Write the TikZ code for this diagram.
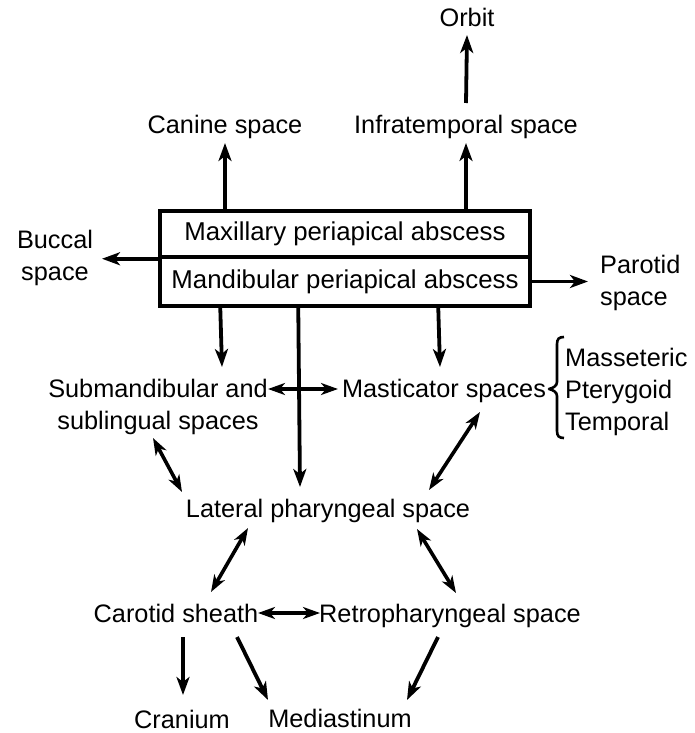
\documentclass[tikz,border=0pt]{standalone}
\usepackage{fontspec}
\setmainfont{Liberation Sans}
\usetikzlibrary{arrows.meta,calc}
\begin{document}
\begin{tikzpicture}[x=1pt,y=-1pt,
  lbl/.style={inner sep=0pt,font=\fontsize{25.3}{32}\selectfont,anchor=base},
  boxc/.style={draw,line width=3.5pt,minimum width=370pt,inner sep=0pt,font=\fontsize{25.8}{30}\selectfont,fill=white},
  arr/.style={line width=3.8pt,-{Stealth[length=18pt,width=13pt,inset=5pt]}},
  darr/.style={line width=3.6pt,{Stealth[length=17pt,width=12pt,inset=5pt]}-{Stealth[length=17pt,width=12pt,inset=5pt]}}]
\useasboundingbox (0,0) rectangle (695,733);
\fill[white] (0,0) rectangle (695,733);
% nodes
\node[lbl] (orbit) at (467,27) {Orbit};
\node[lbl] (can) at (225,133) {Canine space};
\node[lbl] (inf) at (466,133) {Infratemporal space};
\node[boxc,minimum height=46pt] (max) at (345,234) {Maxillary periapical abscess};
\node[boxc,minimum height=49pt] (mand) at (345,281.5) {Mandibular periapical abscess};
\node[lbl,align=center] (buc) at (55,280) {Buccal\\space};
\node[lbl,align=left,anchor=base west] (par) at (600,305) {Parotid\\space};
\node[lbl,align=center] (sub) at (158,429) {Submandibular and\\sublingual spaces};
\node[lbl] (mas) at (444,397) {Masticator spaces};
\node[lbl,align=left,anchor=base west] (mpt) at (565,430) {Masseteric\\Pterygoid\\Temporal};
\node[lbl] (lat) at (328,517) {Lateral pharyngeal space};
\node[lbl] (car) at (176,622) {Carotid sheath};
\node[lbl] (ret) at (450,622) {Retropharyngeal space};
\node[lbl] (cra) at (182,728) {Cranium};
\node[lbl] (med) at (340,727) {Mediastinum};
% connectors
\draw[arr] (max.north -| can.base) -- ($(can.base)+(0,10)$);
\draw[arr] (max.north -| inf.base) -- ($(inf.base)+(0,10)$);
\draw[arr] ($(inf.base)+(0,-30)$) -- ($(orbit.base)+(0,8)$);
\draw[arr] (max.south west) -- (max.south west -| {$(buc.base)+(47,0)$});
\draw[arr] (mand.east) -- (mand.east -| {$(par.base west)+(-12,0)$});
\draw[arr] ($(mand.south west)+(62,0)$) -- ($(sub.base)+(64,-62)$);
\draw[arr] ($(mand.south west)+(140,0)$) -- ($(lat.base)+(-28,-30)$);
\draw[arr] ($(mand.south west)+(280,0)$) -- ($(mas.base)+(-4,-30)$);
\draw[darr] ($(mas.base)+(-176,-8)$) -- ($(mas.base)+(-106,-8)$);
\draw[darr] ($(lat.base)+(-175,-79)$) -- ($(lat.base)+(-146,-25)$);
\draw[darr] ($(lat.base)+(152,-105)$) -- ($(lat.base)+(101,-27)$);
\draw[darr] ($(lat.base)+(89,12)$) -- ($(ret.base)+(6,-29)$);
\draw[darr] ($(lat.base)+(-80,11)$) -- ($(car.base)+(35,-30)$);
\draw[darr] ($(car.base)+(82,-9)$) -- ($(ret.base)+(-130,-9)$);
\draw[arr] ($(car.base)+(7,15)$) -- ($(cra.base)+(1,-33)$);
\draw[arr] ($(car.base)+(61,15)$) -- ($(med.base)+(-72,-27)$);
\draw[arr] ($(ret.base)+(-12,15)$) -- ($(med.base)+(67,-27)$);
% brace
\draw[line width=2.6pt,line join=round] (564,337) .. controls (559,337) and (557,339) .. (557,344)
  -- (557,382) .. controls (557,386) and (553,388) .. (549,389)
  .. controls (553,390) and (557,392) .. (557,396)
  -- (557,431) .. controls (557,436) and (559,438) .. (564,438);
\end{tikzpicture}
\end{document}
